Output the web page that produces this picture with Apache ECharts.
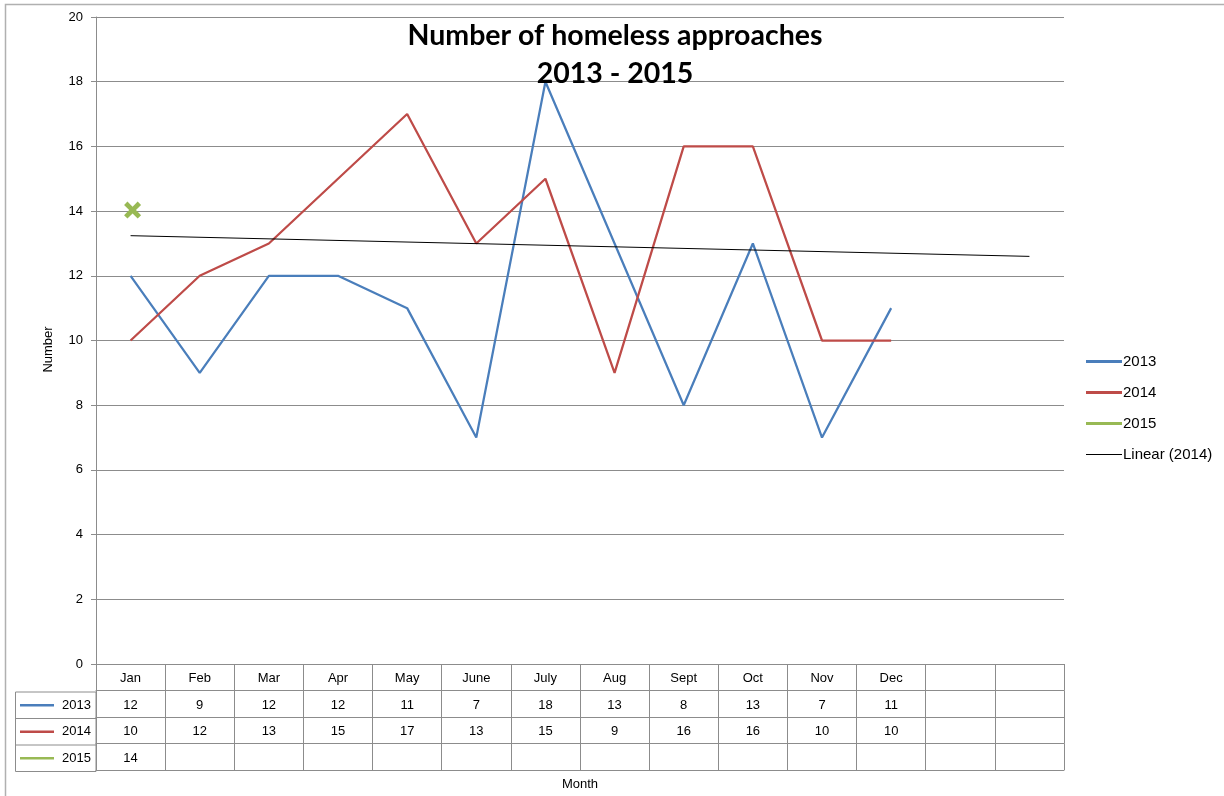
<!DOCTYPE html>
<html>
<head>
<meta charset="utf-8">
<script src="https://cdn.jsdelivr.net/npm/echarts@6/dist/echarts.min.js"></script>
<style>html,body{margin:0;padding:0;background:#fff}#c{width:1224px;height:796px}</style>
</head>
<body>
<div id="c"></div>
<script>
var months = ['Jan','Feb','Mar','Apr','May','June','July','Aug','Sept','Oct','Nov','Dec','',''];
var s2013 = [12, 9, 12, 12, 11, 7, 18, 13, 8, 13, 7, 11];
var s2014 = [10, 12, 13, 15, 17, 13, 15, 9, 16, 16, 10, 10];
var s2015 = [14];
var trendStart = 13.24;   // Linear (2014) at Jan
var trendEnd = 12.6;      // Linear (2014) at 14th column
var yTicks = [0, 20, 2];  // min, max, interval

var N = months.length;
function pad(arr) { var o = arr.slice(); while (o.length < N) o.push(null); return o; }
function labels(arr) { return pad(arr).map(function (v) { return v == null ? '' : String(v); }); }
var trend = []; for (var i = 0; i < N; i++) trend.push(null);
trend[0] = trendStart; trend[N - 1] = trendEnd;

var FONT = 'Liberation Sans';
var LINE = '#8c8c8c';
var rowH = 26.5;

function tableAxis(data, idx, extra) {
  var a = {
    type: 'category', data: data, gridIndex: 0, position: 'bottom', offset: idx * rowH,
    boundaryGap: true,
    axisLine: { show: true, lineStyle: { color: LINE, width: 1 } },
    axisTick: { show: true, interval: 0, length: rowH, inside: false, lineStyle: { color: LINE, width: 1 } },
    axisLabel: { show: true, interval: 0, margin: 8, fontFamily: FONT, fontSize: 13, color: '#000' },
    splitLine: { show: false }
  };
  if (extra) for (var k in extra) a[k] = extra[k];
  return a;
}

var chart = echarts.init(document.getElementById('c'), null, { renderer: 'canvas' });
var rowsY = [692 + rowH / 2, 692 + rowH * 1.5, 692 + rowH * 2.5];
var keyColors = ['#4A7EBB', '#BE4B48', '#98B954'];
var keyNames = ['2013', '2014', '2015'];
var graphics = [
  { type: 'rect', shape: { x: 5.5, y: 4.5, width: 1400, height: 1000 }, style: { fill: 'none', stroke: '#b0b0b0', lineWidth: 1.5 }, silent: true },
  { type: 'rect', shape: { x: 15.5, y: 692, width: 80.5, height: rowH * 3 }, style: { fill: 'none', stroke: LINE, lineWidth: 1 }, silent: true },
  { type: 'line', shape: { x1: 15.5, y1: 692 + rowH, x2: 96, y2: 692 + rowH }, style: { stroke: LINE, lineWidth: 1 } },
  { type: 'line', shape: { x1: 15.5, y1: 692 + rowH * 2, x2: 96, y2: 692 + rowH * 2 }, style: { stroke: LINE, lineWidth: 1 } }
];
for (var r = 0; r < 3; r++) {
  graphics.push({ type: 'line', shape: { x1: 20, y1: rowsY[r], x2: 54, y2: rowsY[r] }, style: { stroke: keyColors[r], lineWidth: 2.5 } });
  graphics.push({ type: 'text', x: 91, y: rowsY[r], style: { text: keyNames[r], fontFamily: FONT, fontSize: 13, fill: '#000', align: 'right', verticalAlign: 'middle' } });
}

var xPath = 'path://M0,2 L2,0 L5,3 L8,0 L10,2 L7,5 L10,8 L8,10 L5,7 L2,10 L0,8 L3,5Z';

chart.setOption({
  animation: false,
  backgroundColor: '#fff',
  title: {
    text: 'Number of homeless approaches\n2013 - 2015',
    left: 610, top: 12, textAlign: 'center',
    textStyle: { fontFamily: 'Lato', fontWeight: 'bold', fontSize: 28.5, lineHeight: 38, color: '#000' }
  },
  legend: {
    orient: 'vertical', left: 1081, top: 349, itemGap: 16, itemWidth: 36, itemHeight: 3,
    textStyle: { fontFamily: FONT, fontSize: 15, color: '#000', padding: [0, 0, 0, -4] },
    data: [
      { name: '2013', icon: 'rect' },
      { name: '2014', icon: 'rect' },
      { name: '2015', icon: 'rect' },
      { name: 'Linear (2014)', icon: 'path://M0,0 h0.01 v0.01 h-0.01 Z M0,0.9 h35 v0.9 h-35 Z M0,2.7 h0.01 v0.01 h-0.01 Z' }
    ]
  },
  grid: { left: 96, right: 160, top: 17, bottom: 131, containLabel: false },
  xAxis: [
    tableAxis(months, 0),
    tableAxis(labels(s2013), 1),
    tableAxis(labels(s2014), 2),
    tableAxis(labels(s2015), 3),
    tableAxis(months, 4, {
      axisTick: { show: false }, axisLabel: { show: false },
      name: 'Month', nameLocation: 'middle', nameGap: 8,
      nameTextStyle: { fontFamily: FONT, fontSize: 13, color: '#000', verticalAlign: 'top' }
    })
  ],
  yAxis: {
    type: 'value', min: yTicks[0], max: yTicks[1], interval: yTicks[2],
    name: 'Number', nameLocation: 'middle', nameGap: 41, nameRotate: 90,
    nameTextStyle: { fontFamily: FONT, fontSize: 13, color: '#000', padding: [0, 18, 0, 0] },
    axisLine: { show: true, lineStyle: { color: LINE, width: 1 } },
    axisTick: { show: true, length: 5, inside: false, lineStyle: { color: LINE } },
    axisLabel: { margin: 13, fontFamily: FONT, fontSize: 13, color: '#000' },
    splitLine: { show: true, lineStyle: { color: LINE, width: 1 } }
  },
  series: [
    { name: '2013', type: 'line', data: pad(s2013), symbol: 'none', color: keyColors[0], lineStyle: { width: 2.25, color: keyColors[0] } },
    { name: '2014', type: 'line', data: pad(s2014), symbol: 'none', color: keyColors[1], lineStyle: { width: 2.25, color: keyColors[1] } },
    { name: '2015', type: 'line', data: pad(s2015), symbol: xPath, symbolSize: 17, showSymbol: true, symbolOffset: [2, -1], color: keyColors[2], itemStyle: { color: keyColors[2] }, lineStyle: { width: 2.25, color: keyColors[2] } },
    { name: 'Linear (2014)', type: 'line', data: trend, connectNulls: true, symbol: 'none', color: '#000', lineStyle: { width: 1, color: '#000' } }
  ],
  graphic: graphics
});
</script>
</body>
</html>
